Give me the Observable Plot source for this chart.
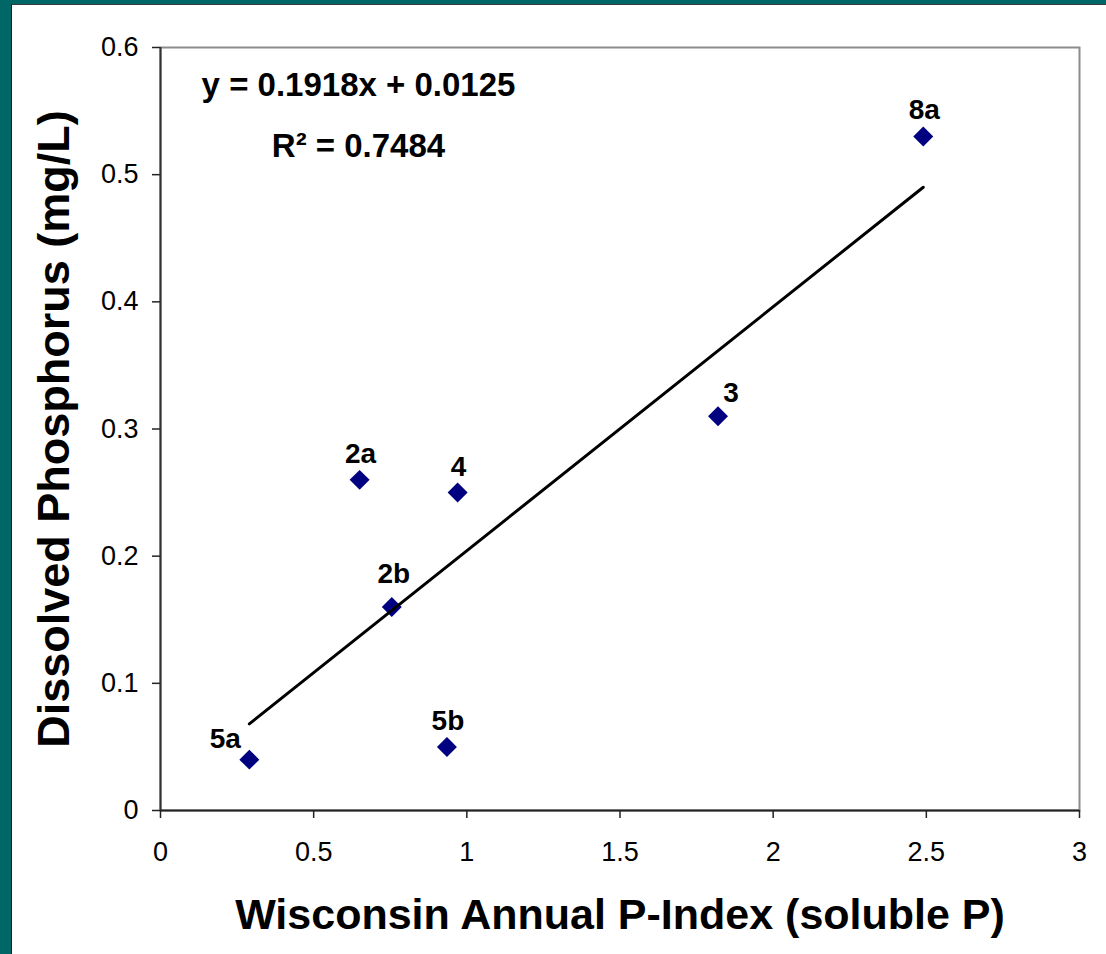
<!DOCTYPE html>
<html>
<head>
<meta charset="utf-8">
<script src="https://cdn.jsdelivr.net/npm/d3@7"></script>
<script src="https://cdn.jsdelivr.net/npm/@observablehq/plot@0.6"></script>
<style>
  html, body { margin: 0; padding: 0; background: #006666; width: 1106px; height: 954px; overflow: hidden; }
  #panel {
    position: absolute; left: 11px; top: 4px; width: 1094px; height: 949px;
    background: #fff; border-left: 1px solid #1a1a1a; border-top: 1px solid #3a3a3a;
  }
  #panel svg { display: block; }
</style>
</head>
<body>
<div id="panel"></div>
<script>
// Field sites: annual P-Index (soluble P) vs. measured dissolved phosphorus
const sites      = ["5a", "2a", "2b", "4", "5b", "3", "8a"];
const pIndex     = [0.29, 0.65, 0.755, 0.97, 0.935, 1.82, 2.49];
const dissolvedP = [0.04, 0.26, 0.16, 0.25, 0.05, 0.31, 0.53];

// Linear trendline
const slope = 0.1918;
const intercept = 0.0125;
const rSquared = 0.7484;

const xTicks = [0, 0.5, 1, 1.5, 2, 2.5, 3];
const yTicks = [0, 0.1, 0.2, 0.3, 0.4, 0.5, 0.6];

const xTitle = "Wisconsin Annual P-Index (soluble P)";
const yTitle = "Dissolved Phosphorus (mg/L)";

const points = sites.map((site, i) => ({site, x: pIndex[i], y: dissolvedP[i]}));

// trendline spans the range of the observed P-Index values
const xMin = d3.min(pIndex), xMax = d3.max(pIndex);
const trend = [xMin, xMax].map(x => ({x, y: slope * x + intercept}));

// label offsets (px) from each marker
const defaultOffset = [1, -26];
const labelOffset = {"3": [13, -23], "5a": [-24, -21], "2b": [2, -33]};

const font = "'Liberation Sans', Arial, Helvetica, sans-serif";

const labelMarks = points.map(p => {
  const [dx, dy] = labelOffset[p.site] || defaultOffset;
  return Plot.text([p], {
    x: "x", y: "y", text: "site", dx, dy,
    fontSize: 28, fontWeight: "bold", fill: "#000", lineAnchor: "middle"
  });
});

const chart = Plot.plot({
  width: 1094,
  height: 949,
  marginLeft: 148,
  marginRight: 27,
  marginTop: 42,
  marginBottom: 144,
  style: {fontFamily: font, background: "#fff", overflow: "visible"},
  x: {domain: [0, 3]},
  y: {domain: [0, 0.6]},
  marks: [
    Plot.frame({stroke: "#8c8c8c", strokeWidth: 2}),
    Plot.axisX({
      ticks: xTicks, tickFormat: d => String(d), tickSize: 8, tickPadding: 23,
      fontSize: 27, label: null, stroke: "#222", strokeWidth: 1.5, color: "#000"
    }),
    Plot.axisY({
      ticks: yTicks, tickFormat: d => String(d), tickSize: 8, tickPadding: 14,
      fontSize: 27, label: null, stroke: "#222", strokeWidth: 1.5, color: "#000"
    }),
    Plot.ruleX([0], {stroke: "#333", strokeWidth: 2}),
    Plot.ruleY([0], {stroke: "#222", strokeWidth: 2}),
    Plot.dot(points, {x: "x", y: "y", symbol: "diamond2", r: 9, fill: "#000080", stroke: "none"}),
    Plot.line(trend, {x: "x", y: "y", stroke: "#000", strokeWidth: 3}),
    ...labelMarks,
    Plot.text([`y = ${slope.toFixed(4)}x + ${intercept.toFixed(4)}`], {
      frameAnchor: "top-left", dx: 198, dy: 38, textAnchor: "middle", lineAnchor: "middle",
      fontSize: 33, fontWeight: "bold", fill: "#000"
    }),
    Plot.text([`R\u00B2 = ${rSquared.toFixed(4)}`], {
      frameAnchor: "top-left", dx: 198, dy: 99, textAnchor: "middle", lineAnchor: "middle",
      fontSize: 33, fontWeight: "bold", fill: "#000"
    }),
    Plot.text([xTitle], {
      frameAnchor: "bottom", dy: 105, textAnchor: "middle", lineAnchor: "middle",
      fontSize: 43, fontWeight: "bold", fill: "#000"
    }),
    Plot.text([yTitle], {
      frameAnchor: "left", dx: -106, rotate: -90, textAnchor: "middle", lineAnchor: "middle",
      fontSize: 45, fontWeight: "bold", fill: "#000"
    })
  ]
});

document.getElementById("panel").appendChild(chart);
</script>
</body>
</html>
